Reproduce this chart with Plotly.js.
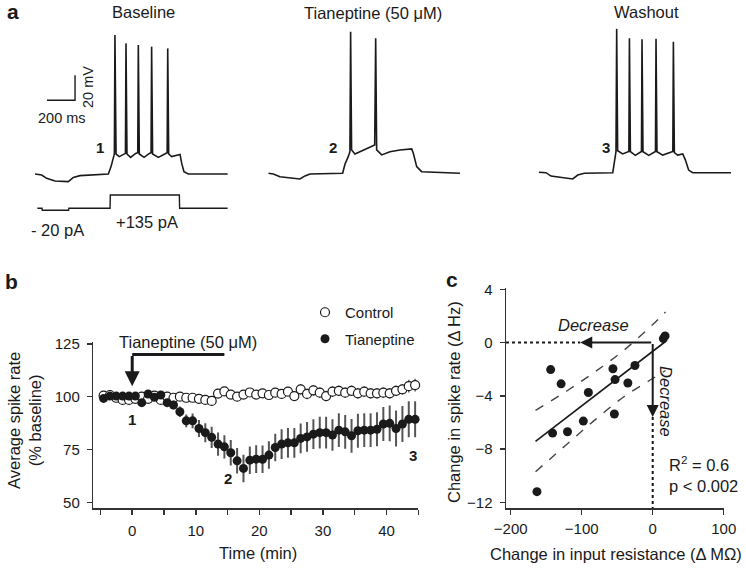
<!DOCTYPE html>
<html>
<head>
<meta charset="utf-8">
<script src="https://cdn.plot.ly/plotly-3.0.1.min.js"></script>
<style>
  body { margin: 0; background: #fff; }
  #fig { width: 746px; height: 568px; }
</style>
</head>
<body>
<div id="fig"></div>
<script>
// --- panel a: current-clamp traces (time in ms, membrane potential in mV) ---
const baseT = [0, 48, 83, 143, 238, 274, 321, 524, 543, 560, 567, 571, 579, 602, 631, 646, 650, 657, 683, 719,
  734, 738, 745, 779, 817, 829, 833, 840, 881, 929, 944, 948, 955, 976, 1012, 1036, 1048, 1064, 1095, 1376];
const baseV = [-70, -70.8, -73.5, -75.6, -76.1, -72.7, -71.3, -70, -64.1, -57.5, -54, 41.2, -54, -56.1, -54, -53.5, 34.5, -54, -56.7, -53.5,
  -53, 33.2, -54, -56.7, -53.5, -53, 31.9, -54, -56.7, -53.5, -53, 30.5, -54, -56.1, -54.8, -54.3, -61.5, -68.1, -70, -70];

const tianT = [0, 36, 83, 226, 262, 298, 531, 548, 571, 583, 588, 595, 619, 655, 714, 760, 767, 774, 810, 869,
  940, 1024, 1036, 1060, 1095, 1369];
const tianV = [-70, -70.5, -72.7, -74.5, -72.1, -70.5, -70, -62.5, -56.7, -52.7, 43.3, -51.3, -54.5, -52.7, -50, -47.3, 38, -51.3, -55.3, -52.7,
  -51.3, -50.5, -54, -64.7, -68.7, -70];

const washT = [0, 52, 88, 243, 279, 326, 529, 540, 552, 557, 564, 600, 636, 644, 648, 655, 690, 726, 734, 738,
  745, 786, 826, 834, 838, 845, 886, 945, 958, 962, 969, 993, 1029, 1048, 1071, 1100, 1374];
const washV = [-69.7, -70, -72.7, -75, -71.9, -70.5, -70, -62.5, -53.2, 45.5, -52.4, -55, -53.2, -53, 37.5, -53.2, -56.1, -53.2, -53, 36.7,
  -53.2, -56.1, -53.2, -53, 37.2, -53.2, -55.9, -53.2, -53, 34.8, -54, -55.9, -55, -59.9, -67.9, -70, -70];

// injected current (pA)
const stimT = [17, 50, 52, 240, 242, 536, 538, 1031, 1033, 1376];
const stimI = [0, 0, -20, -20, 0, 0, 135, 135, 0, 0];

// scale bar: 200 ms / 20 mV
const scaleT = [86, 286, 286];
const scaleV = [-11, -11, 9];

// --- panel b: spike rate over time ---
const timeMin = [-4.5, -3.5, -2.5, -1.5, -0.5, 0.5, 1.5, 2.5, 3.5, 4.5, 5.5, 6.5, 7.5, 8.5, 9.5, 10.5, 11.5, 12.5, 13.5, 14.5,
  15.5, 16.5, 17.5, 18.5, 19.5, 20.5, 21.5, 22.5, 23.5, 24.5, 25.5, 26.5, 27.5, 28.5, 29.5, 30.5, 31.5, 32.5, 33.5, 34.5,
  35.5, 36.5, 37.5, 38.5, 39.5, 40.5, 41.5, 42.5, 43.5, 44.5];
const controlRate = [100.5, 100.8, 99.5, 98.5, 98.5, 99, 100, 99, 100.5, 98.5, 100, 99.5, 100, 99.5, 99.5, 99, 98.5, 98, 101.5, 102.5,
  101, 100, 101, 102, 101, 101.6, 100.8, 101.9, 101.3, 102.4, 100.3, 103.5, 101.3, 103, 101.9, 100.3, 102.4, 102.8, 101.9, 102.8,
  101.6, 102.4, 101.6, 101.6, 101.9, 101.6, 102.8, 103.5, 105, 105.5];
const controlErr = [1, 1, 1, 1, 1, 1, 1, 1, 1, 1, 1.5, 1.5, 1.5, 1.5, 1.5, 1.5, 1.5, 1.5, 2, 2,
  2, 2, 2, 2, 2, 2, 2, 2, 2, 2, 2, 2.5, 2.5, 2.5, 2.5, 2.5, 2.5, 2.5, 2.5, 2.5,
  2.5, 2.5, 2.5, 2.5, 2.5, 2.5, 2.5, 2.5, 3, 3];
const tianRate = [99.2, 100.3, 100.3, 100.3, 100.3, 100.3, 97.2, 101.3, 99.7, 100.8, 97.2, 96.1, 92.9, 88.6, 88.6, 85, 83, 80.8, 77.6, 76.3,
  73.5, 69.7, 66.1, 70, 70.5, 70.4, 72.4, 76, 77.6, 78.2, 78.2, 80.3, 81, 82.3, 83, 83, 81.9, 84.2, 83.4, 81.5,
  83.9, 84.2, 84.2, 84.6, 87.1, 87.4, 85, 87.1, 89.3, 89.3];
const tianErr = [1, 1, 1, 1, 1, 1, 1, 1, 1, 1, 1.5, 2, 2.5, 3, 3.5, 4, 4.5, 5, 5.5, 5.5,
  6, 6, 6.5, 6.5, 6.5, 6.5, 6.5, 6.5, 7, 7, 7, 7, 7, 7, 7.5, 7.5, 7.5, 8, 8, 8,
  8, 8, 8, 8, 8, 8.5, 8.5, 8.5, 8.5, 8.5];
const drugWindow = [0, 14.5];

// --- panel c: change in input resistance vs change in spike rate ---
const dRes = [-143.7, -129, -90.6, -56, -53, -25, -35, -54, -97.7, -141, -120, -163, 17.4, 15];
const dRate = [-2.03, -3.1, -3.75, -1.97, -2.78, -1.72, -3.04, -5.37, -5.9, -6.8, -6.7, -11.2, 0.5, 0.3];
const fitX = [-165, 18];
const fitY = [-7.42, 0.08];
const bandX = [-165, -120, -80, -40, 0, 18];
const bandUpper = [-5.1, -3.6, -2.15, -0.55, 1.35, 2.3];
const bandLower = [-9.7, -7.6, -5.75, -4.05, -2.7, -2.1];

const W = 746, H = 568;
const FONT = 'Liberation Sans, Arial, sans-serif';
const INK = '#1a1a1a';
const dx = (a, b) => [a / W, b / W];
const dy = (top, bottom) => [1 - bottom / H, 1 - top / H];
const px = (x) => x / W;
const py = (y) => 1 - y / H;

const trace = (x, y, xa, ya, extra) => Object.assign({
  x, y, xaxis: xa, yaxis: ya, mode: 'lines',
  line: { color: INK, width: 1.6 }, showlegend: false, hoverinfo: 'skip', cliponaxis: false,
}, extra || {});

const data = [
  trace(baseT, baseV, 'x', 'y'),
  trace(scaleT, scaleV, 'x', 'y', { line: { color: INK, width: 1.4 } }),
  trace(tianT, tianV, 'x2', 'y2'),
  trace(washT, washV, 'x3', 'y3'),
  trace(stimT, stimI, 'x4', 'y4', { line: { color: INK, width: 1.4 } }),

  // panel b
  {
    x: timeMin, y: controlRate, xaxis: 'x5', yaxis: 'y5', name: 'Control', legendgroup: 'c',
    mode: 'markers', cliponaxis: false,
    marker: { size: 9, color: 'white', line: { color: INK, width: 1.2 } },
    error_y: { type: 'data', array: controlErr, color: '#666', thickness: 1.5, width: 0 },
  },
  {
    x: timeMin, y: tianRate, xaxis: 'x5', yaxis: 'y5', name: 'Tianeptine', legendgroup: 't',
    mode: 'markers', cliponaxis: false,
    marker: { size: 9, color: INK },
    error_y: { type: 'data', array: tianErr, color: '#555', thickness: 2, width: 0 },
  },

  // panel c
  trace(bandX, bandUpper, 'x6', 'y6', { line: { color: '#444', width: 1.4, dash: 'dash', shape: 'spline' } }),
  trace(bandX, bandLower, 'x6', 'y6', { line: { color: '#444', width: 1.4, dash: 'dash', shape: 'spline' } }),
  trace(fitX, fitY, 'x6', 'y6', { line: { color: INK, width: 1.6 } }),
  {
    x: dRes, y: dRate, xaxis: 'x6', yaxis: 'y6', mode: 'markers', showlegend: false, cliponaxis: false,
    marker: { size: 9, color: INK },
  },
];

const hidden = { visible: false, fixedrange: true };
const tickFont = { family: FONT, size: 15, color: INK };
const axisStyle = {
  showline: true, linecolor: '#333', linewidth: 1.5, ticks: 'outside', ticklen: 5,
  tickwidth: 1.5, tickcolor: '#333', showgrid: false, zeroline: false, tickfont: tickFont,
  fixedrange: true,
};

const rangeB = [-6.12, 45];
const rangeC = [-206.6, 100.4];
const yRangeC = [-12.43, 4.1];

const txt = (text, x, y, opts) => Object.assign({
  text, x: px(x), y: py(y), xref: 'paper', yref: 'paper', showarrow: false,
  font: { family: FONT, size: 16.5, color: INK }, xanchor: 'center', yanchor: 'middle',
}, opts || {});

const dataTxt = (text, x, y, ax, opts) => Object.assign({
  text, x, y, xref: 'x' + ax, yref: 'y' + ax, showarrow: false,
  font: { family: FONT, size: 16.5, color: INK }, xanchor: 'center', yanchor: 'middle',
}, opts || {});

const layout = {
  width: W, height: H,
  margin: { l: 0, r: 0, t: 0, b: 0 },
  paper_bgcolor: 'white', plot_bgcolor: 'rgba(0,0,0,0)',
  font: { family: FONT, color: INK },
  showlegend: true,
  legend: {
    x: px(305), y: py(296), xanchor: 'left', yanchor: 'top',
    font: { family: FONT, size: 15, color: INK }, bgcolor: 'rgba(0,0,0,0)',
    traceorder: 'grouped', tracegroupgap: 4, itemwidth: 30,
  },

  xaxis: Object.assign({ domain: dx(35, 228), range: [0, 1378.6], anchor: 'y' }, hidden),
  yaxis: Object.assign({ domain: dy(30, 185), range: [-78.8, 45.2], anchor: 'x' }, hidden),
  xaxis2: Object.assign({ domain: dx(268.3, 461.3), range: [0, 1378.6], anchor: 'y2' }, hidden),
  yaxis2: Object.assign({ domain: dy(29.3, 184.3), range: [-78.8, 45.2], anchor: 'x2' }, hidden),
  xaxis3: Object.assign({ domain: dx(538.7, 731.7), range: [0, 1378.6], anchor: 'y3' }, hidden),
  yaxis3: Object.assign({ domain: dy(28.7, 183.7), range: [-78.8, 45.2], anchor: 'x3' }, hidden),
  xaxis4: Object.assign({ domain: dx(35, 228), range: [0, 1378.6], anchor: 'y4' }, hidden),
  yaxis4: Object.assign({ domain: dy(190, 215), range: [-68, 185], anchor: 'x4' }, hidden),

  xaxis5: Object.assign({}, axisStyle, {
    domain: dx(93.3, 418.3), range: rangeB, anchor: 'y5',
    tickvals: [0, 10, 20, 30, 40], ticklabelstandoff: 3,
    minor: { tickvals: [-5, 5, 15, 25, 35, 45], ticks: 'outside', ticklen: 5, tickwidth: 1.5, tickcolor: '#333' },
  }),
  yaxis5: Object.assign({}, axisStyle, {
    domain: dy(341.7, 508), range: [47.4, 126], anchor: 'x5',
    tickvals: [50, 75, 100, 125], ticklabelstandoff: 4,
  }),
  xaxis6: Object.assign({}, axisStyle, {
    domain: dx(506, 724), range: rangeC, anchor: 'y6',
    tickvals: [-200, -100, 0, 100], ticklabelstandoff: 1,
  }),
  yaxis6: Object.assign({}, axisStyle, {
    domain: dy(288, 508), range: yRangeC, anchor: 'x6',
    tickvals: [-12, -8, -4, 0, 4], ticklabelstandoff: 4,
  }),

  shapes: [
    // drug application bar (panel b)
    { type: 'line', xref: 'x5', yref: 'y5', x0: drugWindow[0], x1: drugWindow[1], y0: 120, y1: 120,
      line: { color: INK, width: 3 } },
    // dotted reference lines (panel c)
    { type: 'line', xref: 'x6', yref: 'y6', x0: rangeC[0], x1: -102, y0: 0, y1: 0,
      line: { color: INK, width: 2, dash: 'dot' } },
    { type: 'line', xref: 'x6', yref: 'y6', x0: 0, x1: 0, y0: -5.6, y1: yRangeC[0],
      line: { color: INK, width: 2, dash: 'dot' } },
  ],

  annotations: [
    // panel letters
    txt('<b>a</b>', 13, 12, { font: { family: FONT, size: 21, color: INK } }),
    txt('<b>b</b>', 11, 281, { font: { family: FONT, size: 21, color: INK } }),
    txt('<b>c</b>', 452, 279, { font: { family: FONT, size: 21, color: INK } }),

    // panel a
    txt('Baseline', 143, 12),
    txt('Tianeptine (50 μM)', 373, 13),
    txt('Washout', 646, 12),
    txt('20 mV', 88, 87, { textangle: -90, font: { family: FONT, size: 14.5, color: INK } }),
    txt('200 ms', 62, 118, { font: { family: FONT, size: 14.5, color: INK } }),
    txt('<b>1</b>', 100, 147, { font: { family: FONT, size: 15, color: INK } }),
    txt('<b>2</b>', 333, 147, { font: { family: FONT, size: 15, color: INK } }),
    txt('<b>3</b>', 606, 147, { font: { family: FONT, size: 15, color: INK } }),
    txt('- 20 pA', 57, 230),
    txt('+135 pA', 147, 222),

    // panel b
    txt('Average spike rate<br>(% baseline)', 24, 421, { textangle: -90 }),
    txt('Time (min)', 258, 553),
    dataTxt('Tianeptine (50 μM)', 8.7, 125.9, 5),
    { x: 0, y: 105, ax: 0, ay: 120, xref: 'x5', yref: 'y5', axref: 'x5', ayref: 'y5',
      text: '', showarrow: true, arrowhead: 2, arrowsize: 1, arrowwidth: 3, arrowcolor: INK },
    dataTxt('<b>1</b>', 0, 89, 5, { font: { family: FONT, size: 15, color: INK } }),
    dataTxt('<b>2</b>', 15, 61.5, 5, { font: { family: FONT, size: 15, color: INK } }),
    dataTxt('<b>3</b>', 44.1, 72.4, 5, { font: { family: FONT, size: 15, color: INK } }),

    // panel c
    txt('Change in spike rate (Δ Hz)', 454, 402, { textangle: -90 }),
    txt('Change in input resistance (Δ MΩ)', 616, 554),
    { x: -102, y: 0, ax: 0, ay: 0, xref: 'x6', yref: 'y6', axref: 'x6', ayref: 'y6',
      text: '', showarrow: true, arrowhead: 2, arrowsize: 1.2, arrowwidth: 2, arrowcolor: INK },
    { x: 0, y: -5.6, ax: 0, ay: 0, xref: 'x6', yref: 'y6', axref: 'x6', ayref: 'y6',
      text: '', showarrow: true, arrowhead: 2, arrowsize: 1.2, arrowwidth: 2, arrowcolor: INK },
    dataTxt('<i>Decrease</i>', -83, 1.35, 6),
    dataTxt('<i>Decrease</i>', 19.7, -4.45, 6, { textangle: 90 }),
    dataTxt('R<sup>2</sup> = 0.6<br>p &lt; 0.002', 19.7, -9.95, 6, { xanchor: 'left', align: 'left' }),
  ],
};

Plotly.newPlot('fig', data, layout, { displayModeBar: false, staticPlot: true });
</script>
</body>
</html>
